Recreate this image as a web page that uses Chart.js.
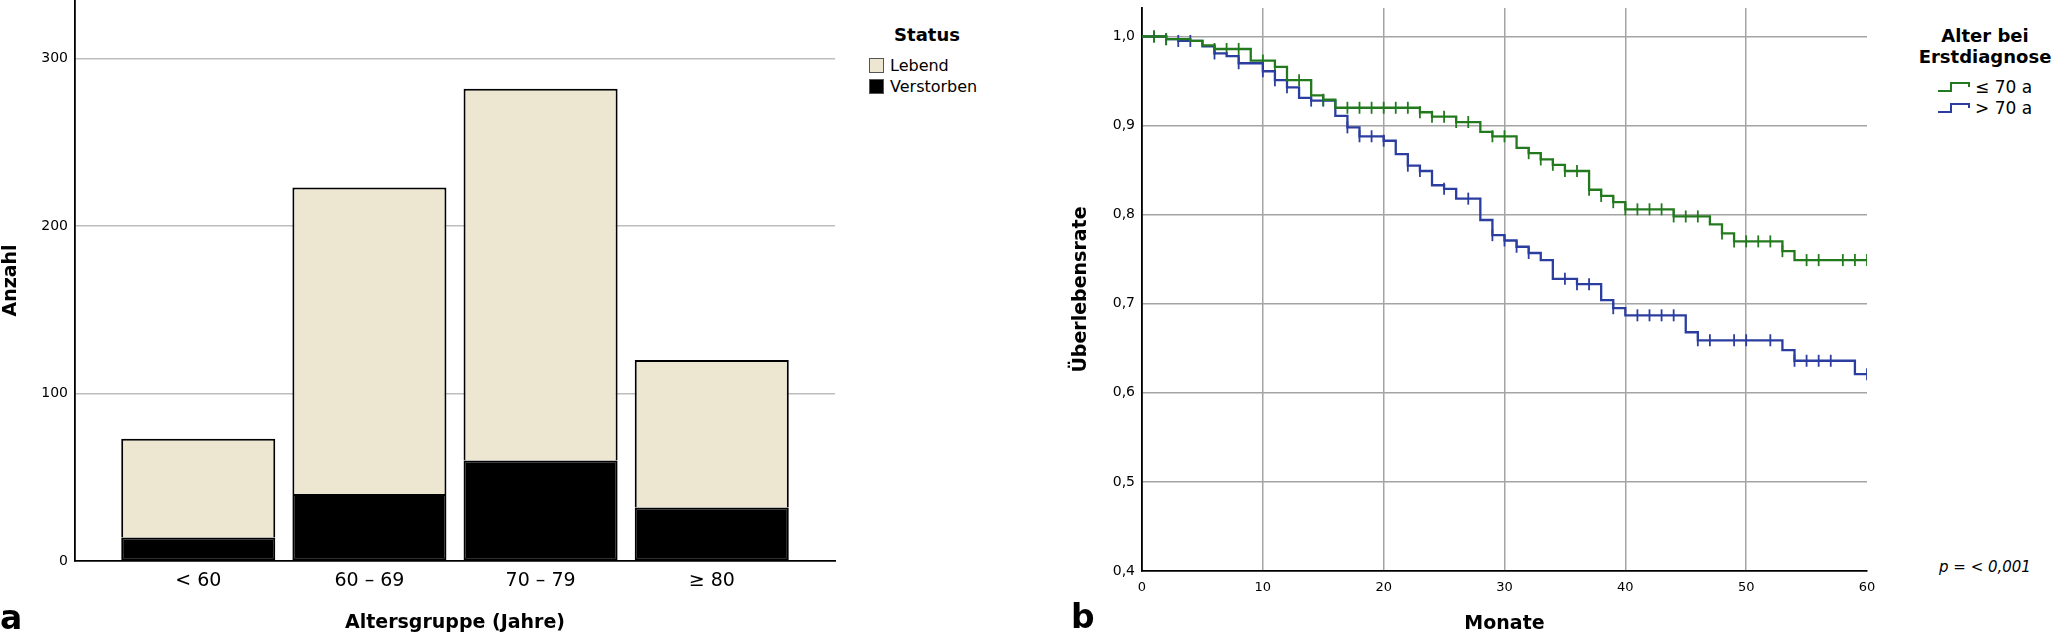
<!DOCTYPE html>
<html lang="de">
<head>
<meta charset="utf-8">
<title>Altersgruppe und Überleben</title>
<script src="https://cdn.jsdelivr.net/npm/chart.js@4.4.1/dist/chart.umd.min.js"></script>
<style>
  html, body { margin: 0; padding: 0; background: #fff; }
  body { width: 2055px; height: 637px; position: relative; overflow: hidden; font-family: 'DejaVu Sans', sans-serif; color: #000; }
  canvas { position: absolute; top: 0; }
  #barChart { left: 0; }
  #kmChart { left: 1060px; }
  .txt { position: absolute; white-space: nowrap; }
  .panel { font-weight: bold; font-size: 33px; line-height: 36px; }
  .legend-title { font-weight: bold; font-size: 18px; line-height: 21px; text-align: center; }
  .legend-item { font-size: 16px; line-height: 20px; display: flex; align-items: center; }
  .swatch { width: 13px; height: 13px; border: 1px solid #555; margin-right: 6px; }
  .step { margin-right: 4px; }
</style>
</head>
<body>
<canvas id="barChart" width="860" height="637"></canvas>
<canvas id="kmChart" width="840" height="637"></canvas>

<div class="txt panel" style="left:0px; top:600px;">a</div>
<div class="txt panel" style="left:1071px; top:599px;">b</div>

<div class="txt legend-title" style="left:880px; top:24px; width:94px;">Status</div>
<div id="statusLegend" class="txt" style="left:869px; top:55px;"></div>

<div class="txt legend-title" style="left:1910px; top:25px; width:150px;">Alter bei<br>Erstdiagnose</div>
<div id="ageLegend" class="txt" style="left:1937px; top:76px;"></div>

<div class="txt" style="left:1939px; top:557px; font-size:15px; line-height:20px; font-style:italic;">p = &lt; 0,001</div>

<script>
// ---- Panel a: Altersgruppe / Status ----
const ageGroups = ['< 60', '60 – 69', '70 – 79', '≥ 80'];
const lebend = [59, 183, 222, 88];
const verstorben = [14, 40, 60, 32];
const countTicks = [0, 100, 200, 300];

// ---- Panel b: Kaplan-Meier, Alter bei Erstdiagnose ----
const months = [0, 1, 2, 3, 4, 5, 6, 7, 8, 9, 10, 11, 12, 13, 14, 15, 16, 17, 18, 19, 20,
    21, 22, 23, 24, 25, 26, 27, 28, 29, 30, 31, 32, 33, 34, 35, 36, 37, 38, 39, 40,
    41, 42, 43, 44, 45, 46, 47, 48, 49, 50, 51, 52, 53, 54, 55, 56, 57, 58, 59, 60];
const survUpTo70 = [1.000, 1.000, 0.997, 0.997, 0.995, 0.990, 0.986, 0.986, 0.986, 0.973, 0.973,
    0.966, 0.951, 0.951, 0.934, 0.929, 0.920, 0.920, 0.920, 0.920, 0.920,
    0.920, 0.920, 0.915, 0.910, 0.910, 0.904, 0.904, 0.893, 0.888, 0.888,
    0.875, 0.869, 0.862, 0.856, 0.849, 0.849, 0.828, 0.821, 0.814, 0.806,
    0.806, 0.806, 0.806, 0.798, 0.798, 0.798, 0.789, 0.779, 0.770, 0.770,
    0.770, 0.770, 0.759, 0.749, 0.749, 0.749, 0.749, 0.749, 0.749, 0.749];
const survOver70 = [1.000, 1.000, 0.997, 0.995, 0.995, 0.989, 0.981, 0.978, 0.970, 0.970, 0.961,
    0.951, 0.943, 0.931, 0.928, 0.928, 0.911, 0.898, 0.888, 0.888, 0.883,
    0.868, 0.855, 0.849, 0.833, 0.829, 0.818, 0.818, 0.794, 0.777, 0.771,
    0.764, 0.757, 0.749, 0.728, 0.728, 0.722, 0.722, 0.704, 0.695, 0.687,
    0.687, 0.687, 0.687, 0.687, 0.668, 0.659, 0.659, 0.659, 0.659, 0.659,
    0.659, 0.659, 0.648, 0.636, 0.636, 0.636, 0.636, 0.636, 0.621, 0.621];
const censoredUpTo70 = [1, 2, 6, 7, 8, 10, 11, 13, 15, 17, 18, 19, 20, 21, 22, 23, 24, 25, 26, 27,
    29, 30, 32, 33, 34, 35, 36, 37, 38, 39, 40, 41, 42, 43, 44, 45, 46, 48, 49, 50, 51, 52,
    53, 55, 56, 58, 59, 60];
const censoredOver70 = [1, 2, 3, 4, 6, 8, 10, 11, 12, 14, 15, 17, 18, 19, 20, 22, 23, 25, 27, 29,
    30, 31, 32, 35, 36, 37, 39, 41, 42, 43, 44, 46, 47, 49, 50, 52, 54, 55, 56, 57, 60];
const monthTicks = [0, 10, 20, 30, 40, 50, 60];
const rateTicks = [0.4, 0.5, 0.6, 0.7, 0.8, 0.9, 1.0];

const colorLebend = '#ede6d1';
const colorVerstorben = '#000000';
const colorUpTo70 = '#237a1e';
const colorOver70 = '#2b3d9f';

Chart.defaults.font.family = "'DejaVu Sans', sans-serif";
Chart.defaults.color = '#000';

function hideAt(value, color) {
    return function(ctx) {
        return ctx.tick && ctx.tick.value === value ? 'rgba(0,0,0,0)' : color;
    };
}

// labels never sit on the edges here, so drop the half-label padding
function noEdgePadding(scale) {
    scale.paddingTop = 0;
    scale.paddingBottom = 0;
    scale.paddingLeft = 0;
    scale.paddingRight = 0;
}

// bar chart
const barCtx = document.getElementById('barChart').getContext('2d');
new Chart(barCtx, {
    type: 'bar',
    data: {
        datasets: [
            {
                label: 'Verstorben',
                data: verstorben.map((v, i) => ({ x: i, y: v })),
                backgroundColor: colorVerstorben,
                borderColor: '#000',
                borderWidth: 2,
                borderSkipped: false
            },
            {
                label: 'Lebend',
                data: lebend.map((v, i) => ({ x: i, y: v })),
                backgroundColor: colorLebend,
                borderColor: '#000',
                borderWidth: 2,
                borderSkipped: 'start'
            }
        ]
    },
    options: {
        responsive: false,
        animation: false,
        layout: { padding: { left: 0, right: 25, top: 0, bottom: 0 } },
        categoryPercentage: 1,
        barPercentage: 0.9,
        plugins: { legend: { display: false }, tooltip: { enabled: false } },
        scales: {
            x: {
                type: 'linear',
                stacked: true,
                offset: false,
                min: -0.72,
                max: 3.72,
                grid: { display: false, drawTicks: false },
                border: { color: '#000', width: 1.8 },
                ticks: {
                    stepSize: 1,
                    includeBounds: false,
                    autoSkip: false,
                    maxRotation: 0,
                    padding: 9,
                    font: { size: 19 },
                    callback: function(value) {
                        return ageGroups[value] !== undefined ? ageGroups[value] : '';
                    }
                },
                title: {
                    display: true,
                    text: 'Altersgruppe (Jahre)',
                    font: { size: 19, weight: 'bold' },
                    padding: { top: 0, bottom: 3 }
                },
                afterFit: function(scale) { scale.height = 76; noEdgePadding(scale); }
            },
            y: {
                stacked: true,
                min: 0,
                max: 335,
                grid: { color: hideAt(0, '#bdbdbd'), lineWidth: 1.5, drawTicks: false },
                border: { color: '#000', width: 1.8 },
                ticks: { stepSize: 100, includeBounds: false, padding: 7, font: { size: 14 } },
                afterBuildTicks: function(scale) {
                    scale.ticks = countTicks.map(v => ({ value: v }));
                },
                title: {
                    display: true,
                    text: 'Anzahl',
                    font: { size: 19, weight: 'bold' },
                    padding: 0
                },
                afterFit: function(scale) { scale.width = 75; noEdgePadding(scale); }
            }
        }
    }
});

// Kaplan-Meier chart
function curve(values) {
    return months.map((m, i) => ({ x: m, y: values[i] }));
}
function censorMarks(list, values) {
    return list.map(m => ({ x: m, y: values[months.indexOf(m)] }));
}

const kmCtx = document.getElementById('kmChart').getContext('2d');
new Chart(kmCtx, {
    type: 'line',
    data: {
        datasets: [
            {
                label: '≤ 70 a',
                data: curve(survUpTo70),
                stepped: true,
                borderColor: colorUpTo70,
                borderWidth: 2.3,
                pointRadius: 0,
                fill: false
            },
            {
                label: '> 70 a',
                data: curve(survOver70),
                stepped: true,
                borderColor: colorOver70,
                borderWidth: 2.3,
                pointRadius: 0,
                fill: false
            },
            {
                label: '≤ 70 a zensiert',
                data: censorMarks(censoredUpTo70, survUpTo70),
                showLine: false,
                pointStyle: 'line',
                pointRotation: 90,
                pointRadius: 6,
                pointBorderWidth: 1.8,
                borderColor: colorUpTo70,
                pointBorderColor: colorUpTo70
            },
            {
                label: '> 70 a zensiert',
                data: censorMarks(censoredOver70, survOver70),
                showLine: false,
                pointStyle: 'line',
                pointRotation: 90,
                pointRadius: 6,
                pointBorderWidth: 1.8,
                borderColor: colorOver70,
                pointBorderColor: colorOver70
            }
        ]
    },
    options: {
        responsive: false,
        animation: false,
        layout: { padding: { left: 0, right: 33, top: 8, bottom: 0 } },
        plugins: { legend: { display: false }, tooltip: { enabled: false } },
        scales: {
            x: {
                type: 'linear',
                min: 0,
                max: 60,
                grid: { color: hideAt(60, '#a4a4a4'), lineWidth: 1.5, drawTicks: false },
                border: { color: '#000', width: 1.8 },
                ticks: { stepSize: 10, padding: 9, maxRotation: 0, font: { size: 13 } },
                afterBuildTicks: function(scale) {
                    scale.ticks = monthTicks.map(v => ({ value: v }));
                },
                title: {
                    display: true,
                    text: 'Monate',
                    font: { size: 19, weight: 'bold' },
                    padding: { top: 0, bottom: 2 }
                },
                afterFit: function(scale) { scale.height = 66; noEdgePadding(scale); }
            },
            y: {
                min: 0.4,
                max: 1.032,
                grid: { color: hideAt(0.4, '#a4a4a4'), lineWidth: 1.5, drawTicks: false },
                border: { color: '#000', width: 1.8 },
                ticks: {
                    padding: 7,
                    font: { size: 14 },
                    callback: function(value) {
                        return value.toFixed(1).replace('.', ',');
                    }
                },
                afterBuildTicks: function(scale) {
                    scale.ticks = rateTicks.map(v => ({ value: v }));
                },
                title: {
                    display: true,
                    text: 'Überlebensrate',
                    font: { size: 19, weight: 'bold' },
                    padding: { top: 10 }
                },
                afterFit: function(scale) { scale.width = 82; noEdgePadding(scale); }
            }
        }
    }
});

// HTML legends
const statusLegend = document.getElementById('statusLegend');
[['Lebend', colorLebend], ['Verstorben', colorVerstorben]].forEach(function(item) {
    const row = document.createElement('div');
    row.className = 'legend-item';
    row.style.height = '21px';
    row.innerHTML = '<span class="swatch" style="background:' + item[1] + '"></span>' + item[0];
    statusLegend.appendChild(row);
});

const ageLegend = document.getElementById('ageLegend');
[['≤ 70 a', colorUpTo70], ['> 70 a', colorOver70]].forEach(function(item) {
    const row = document.createElement('div');
    row.className = 'legend-item';
    row.style.height = '21px';
    row.style.fontSize = '17px';
    row.innerHTML = '<svg class="step" width="34" height="12"><polyline points="1,10 14,10 14,2 32,2 32,6" fill="none" stroke="' +
        item[1] + '" stroke-width="2"/></svg>' + item[0];
    ageLegend.appendChild(row);
});
</script>
</body>
</html>
